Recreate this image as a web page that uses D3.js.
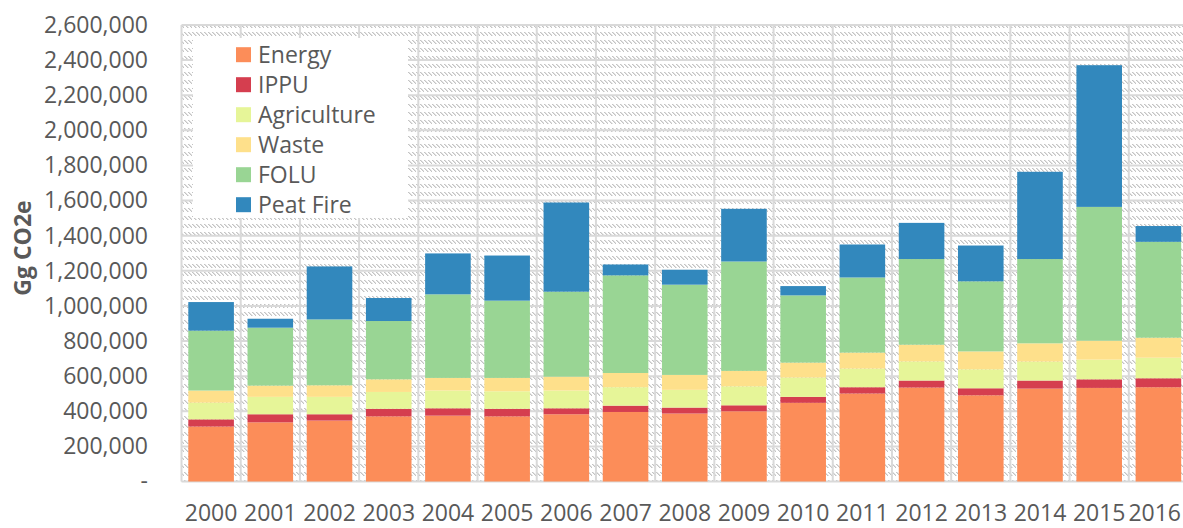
<!DOCTYPE html>
<html lang="en">
<head>
    <meta charset="UTF-8">
    <title>GHG emissions by sector 2000-2016</title>
    <script src="https://d3js.org/d3.v7.min.js"></script>
    <style>
        body { margin: 0; background: #fff; }
        svg text { font-family: "Open Sans", "Noto Sans", sans-serif; fill: #595959; }
    </style>
</head>
<body>
    <div id="chart"></div>

    <script>
        // values, Gg CO2e
        const years = ["2000", "2001", "2002", "2003", "2004", "2005", "2006", "2007", "2008",
                       "2009", "2010", "2011", "2012", "2013", "2014", "2015", "2016"];
        const sectors = ["Energy", "IPPU", "Agriculture", "Waste", "FOLU", "Peat Fire"];
        const energy      = [313000, 337000, 347000, 371000, 375000, 371000, 383000, 396000, 387000, 400000, 448000, 501000, 535000, 491000, 529000, 533000, 537000];
        const ippu        = [41000, 46000, 36000, 43000, 42000, 43000, 34000, 36000, 34000, 34000, 34000, 36000, 40000, 40000, 46000, 49000, 51000];
        const agriculture = [95000, 99000, 99000, 96000, 101000, 100000, 101000, 105000, 101000, 108000, 110000, 106000, 109000, 108000, 108000, 112000, 117000];
        const waste       = [69000, 64000, 66000, 72000, 72000, 76000, 79000, 81000, 85000, 88000, 85000, 91000, 95000, 102000, 104000, 108000, 114000];
        const folu        = [341000, 330000, 375000, 332000, 476000, 440000, 484000, 556000, 514000, 623000, 383000, 428000, 488000, 399000, 480000, 762000, 546000];
        const peatFire    = [163000, 51000, 302000, 131000, 233000, 257000, 508000, 62000, 85000, 300000, 53000, 188000, 206000, 204000, 497000, 807000, 90000];
        const yTicks = d3.range(0, 2600001, 200000);

        const colors = ["#fc8d59", "#d53e4f", "#e6f598", "#fee08b", "#99d594", "#3288bd"];
        const series = [energy, ippu, agriculture, waste, folu, peatFire];

        const table = years.map((y, i) => {
            const row = { year: y };
            sectors.forEach((s, j) => row[s] = series[j][i]);
            return row;
        });

        const width = 1183, height = 528;
        const margin = { left: 181.5, right: -5, top: 25, bottom: 46 };

        const svg = d3.select("#chart").append("svg")
            .attr("width", width)
            .attr("height", height);

        // dashed downward diagonal fill, like the Excel plot area
        const pat = svg.append("defs").append("pattern")
            .attr("id", "hatch")
            .attr("patternUnits", "userSpaceOnUse")
            .attr("width", 8).attr("height", 8);
        pat.append("rect").attr("width", 8).attr("height", 8).attr("fill", "#fff");
        [0, 1, 2, 3].forEach(k => {
            [0, 4].forEach(o => {
                pat.append("rect")
                    .attr("x", k + o).attr("y", k)
                    .attr("width", 1.5).attr("height", 1)
                    .attr("fill", "#c4c4c4");
            });
        });

        const x = d3.scaleBand()
            .domain(years)
            .range([margin.left, width - margin.right])
            .paddingInner(0.23)
            .paddingOuter(0.115);

        const y = d3.scaleLinear()
            .domain([0, 2600000])
            .range([height - margin.bottom - 0.5, margin.top]);

        const plotW = width - margin.right - margin.left;

        svg.append("rect")
            .attr("x", margin.left)
            .attr("y", margin.top)
            .attr("width", plotW)
            .attr("height", y(0) - margin.top)
            .attr("fill", "url(#hatch)");

        // horizontal gridlines
        svg.append("g")
            .selectAll("line")
            .data(yTicks)
            .join("line")
            .attr("x1", margin.left).attr("x2", width - margin.right)
            .attr("y1", d => y(d)).attr("y2", d => y(d))
            .attr("stroke", "#d9d9d9")
            .attr("stroke-width", 2);

        // vertical gridlines at category boundaries
        const step = x.step();
        svg.append("g")
            .selectAll("line")
            .data(d3.range(years.length + 1))
            .join("line")
            .attr("x1", i => margin.left + i * step).attr("x2", i => margin.left + i * step)
            .attr("y1", margin.top).attr("y2", y(0))
            .attr("stroke", "#d9d9d9")
            .attr("stroke-width", 2);

        const stack = d3.stack().keys(sectors)(table);

        svg.append("g")
            .selectAll("g")
            .data(stack)
            .join("g")
            .attr("fill", (d, i) => colors[i])
            .selectAll("rect")
            .data(d => d)
            .join("rect")
            .attr("x", d => x(d.data.year))
            .attr("y", d => y(d[1]))
            .attr("width", x.bandwidth())
            .attr("height", d => y(d[0]) - y(d[1]));

        // y axis
        const yAxis = d3.axisLeft(y)
            .tickValues(yTicks)
            .tickSize(0)
            .tickPadding(0)
            .tickFormat(d => d === 0 ? "-" : d3.format(",")(d));

        const gy = svg.append("g")
            .attr("transform", "translate(148,0)")
            .call(yAxis);
        gy.select(".domain").remove();
        gy.selectAll("text").attr("font-size", 23);
        gy.attr("font-family", null);

        // x axis
        const xAxis = d3.axisBottom(x).tickSize(0).tickPadding(0);
        const gx = svg.append("g")
            .attr("transform", `translate(0,${height - 7})`)
            .call(xAxis);
        gx.select(".domain").remove();
        gx.selectAll("text")
            .attr("font-size", 23)
            .attr("dy", "0");
        gx.attr("font-family", null);

        // last label would run past the right edge, pull it in a little
        gx.selectAll("text").each(function () {
            const box = this.getBBox();
            const tx = x(this.textContent) + x.bandwidth() / 2;
            const over = tx + box.x + box.width - (width - 2);
            if (over > 0) d3.select(this).attr("x", -over);
        });

        svg.append("text")
            .attr("transform", "translate(31,248) rotate(-90)")
            .attr("text-anchor", "middle")
            .attr("font-size", 23)
            .attr("font-weight", "bold")
            .text("Gg CO2e");

        // legend
        const legend = svg.append("g");
        legend.append("rect")
            .attr("x", 193).attr("y", 38)
            .attr("width", 215).attr("height", 180)
            .attr("fill", "#fff");

        const items = legend.selectAll("g.item")
            .data(sectors)
            .join("g")
            .attr("class", "item")
            .attr("transform", (d, i) => `translate(236,${54.7 + i * 30})`);

        items.append("rect")
            .attr("y", -7.5)
            .attr("width", 15).attr("height", 15)
            .attr("fill", (d, i) => colors[i]);

        items.append("text")
            .attr("x", 22)
            .attr("dy", "0.36em")
            .attr("font-size", 23)
            .text(d => d);
    </script>
</body>
</html>
